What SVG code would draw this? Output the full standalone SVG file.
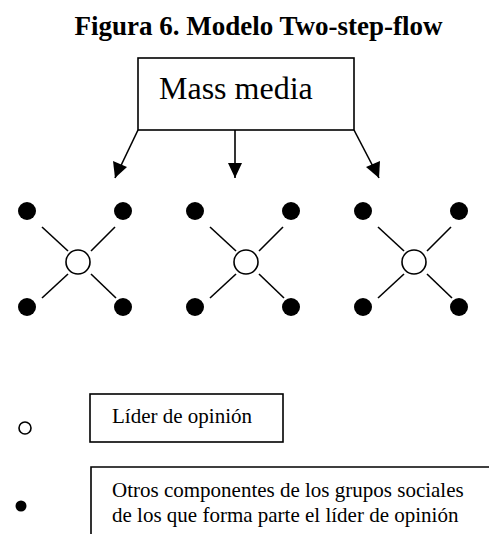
<svg xmlns="http://www.w3.org/2000/svg" width="489" height="534" viewBox="0 0 489 534">
<style>
.t{font-family:"Liberation Serif","Times New Roman",serif;fill:#000}
.box{fill:#fff;stroke:#000;stroke-width:1.6}
.ln{stroke:#000;stroke-width:1.6;fill:none}
.dot{fill:#000}
.lead{fill:#fff;stroke:#000;stroke-width:1.6}
</style>
<defs>
<g id="cluster">
<line class="ln" x1="-36" y1="-35" x2="-10" y2="-11"/>
<line class="ln" x1="37" y1="-35" x2="13" y2="-11"/>
<line class="ln" x1="-10" y1="12" x2="-36" y2="36"/>
<line class="ln" x1="13" y1="12" x2="38" y2="36"/>
<circle class="dot" cx="-51" cy="-51" r="9"/>
<circle class="dot" cx="45" cy="-51" r="9"/>
<circle class="dot" cx="-51" cy="45" r="9"/>
<circle class="dot" cx="45" cy="45" r="9"/>
<circle class="lead" cx="0" cy="0" r="12"/>
</g>
</defs>
<text class="t" x="258.5" y="35" font-size="27" font-weight="bold" text-anchor="middle">Figura 6. Modelo Two-step-flow</text>
<g id="connectors">
<path d="M138,130 L115,178" fill="none" stroke="#000" stroke-width="1.6"/>
<path d="M235,130 L235,178" fill="none" stroke="#000" stroke-width="1.6"/>
<path d="M354,130 L379,178" fill="none" stroke="#000" stroke-width="1.6"/>
<polygon points="115,178 113,161 127,167" fill="#000"/>
<polygon points="235,178 228,163 242,163" fill="#000"/>
<polygon points="379,178 366,167 380,161" fill="#000"/>
</g>
<g id="mass-media">
<rect class="box" x="138" y="58" width="216" height="72"/>
<text class="t" x="159" y="99" font-size="32">Mass media</text>
</g>
<g id="group1"><use href="#cluster" x="78" y="262"/></g>
<g id="group2"><use href="#cluster" x="246" y="262"/></g>
<g id="group3"><use href="#cluster" x="414" y="262"/></g>
<g id="legend-leader">
<circle class="lead" cx="25" cy="428" r="6"/>
<rect class="box" x="90" y="394" width="193" height="48"/>
<text class="t" x="112" y="423" font-size="21">Líder de opinión</text>
</g>
<g id="legend-others">
<circle class="dot" cx="21" cy="506" r="5.5"/>
<path class="ln" d="M91,540 L91,467 L495,467"/>
<text class="t" x="112" y="497" font-size="21">Otros componentes de los grupos sociales</text>
<text class="t" x="112" y="522" font-size="21">de los que forma parte el líder de opinión</text>
</g>
</svg>
